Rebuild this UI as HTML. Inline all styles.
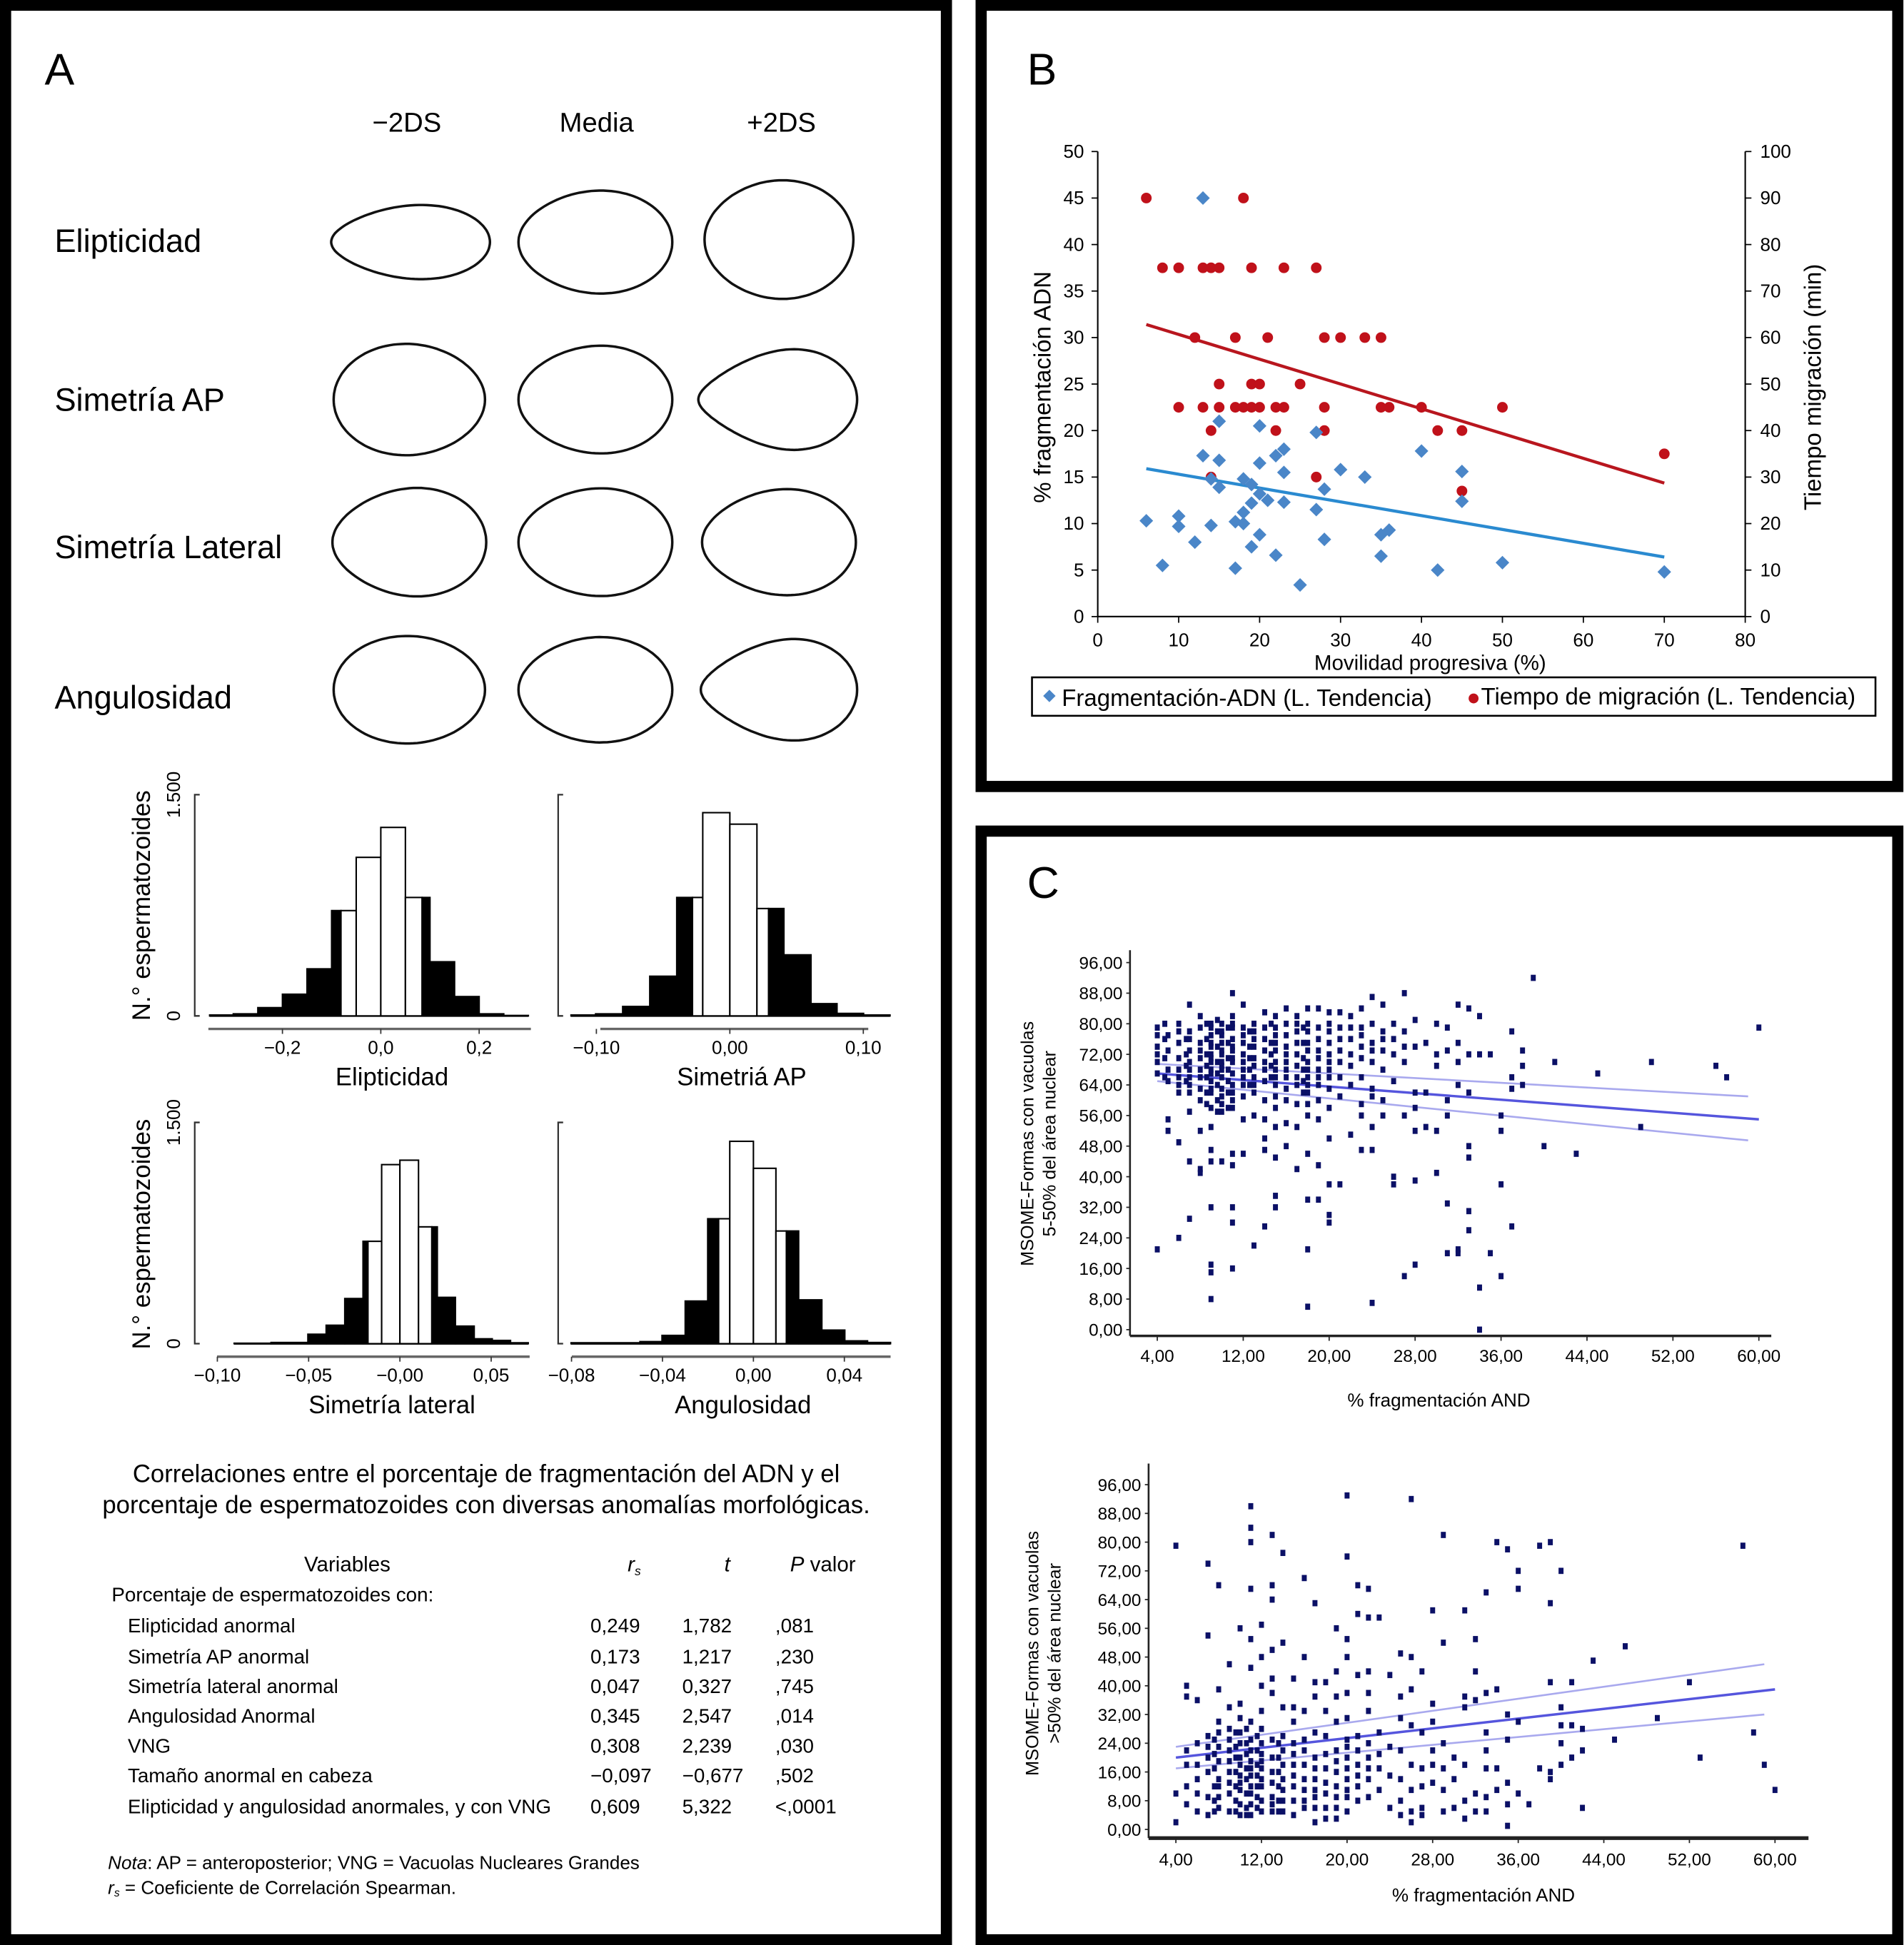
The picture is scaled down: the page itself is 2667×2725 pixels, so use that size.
<!DOCTYPE html>
<html><head><meta charset="utf-8"><style>
html,body{margin:0;padding:0;background:#fff}
svg{display:block}
text{font-family:"Liberation Sans",sans-serif}
</style></head><body>
<svg id="fig" width="2667" height="2725" viewBox="0 0 1535 1568" xmlns="http://www.w3.org/2000/svg">
<rect x="0" y="0" width="1535" height="1568" fill="#fff"/>
<rect x="4.5" y="4" width="758.5" height="1560" fill="none" stroke="#000" stroke-width="9"/>
<rect x="791" y="4" width="739" height="630" fill="none" stroke="#000" stroke-width="9"/>
<rect x="791" y="670" width="739" height="894" fill="none" stroke="#000" stroke-width="9"/>

<text x="36" y="68" font-size="36">A</text>
<text x="828" y="68" font-size="36">B</text>
<text x="828" y="724" font-size="36">C</text>

<g font-size="22" text-anchor="middle">
<text x="328" y="106">−2DS</text>
<text x="481" y="106">Media</text>
<text x="630" y="106">+2DS</text>
</g>
<g font-size="26">
<text x="44" y="203">Elipticidad</text>
<text x="44" y="331">Simetría AP</text>
<text x="44" y="450">Simetría Lateral</text>
<text x="44" y="571">Angulosidad</text>
</g>
<g id="shapes"></g>
<g id="hists"></g>

<g font-size="20" text-anchor="middle">
<text x="392" y="1195">Correlaciones entre el porcentaje de fragmentación del ADN y el</text>
<text x="392" y="1220">porcentaje de espermatozoides con diversas anomalías morfológicas.</text>
</g>
<g font-size="16">
<text x="280" y="1267" text-anchor="middle" font-size="17">Variables</text>
<text x="506" y="1267" font-style="italic" font-size="17">r<tspan font-size="10" dy="3">s</tspan></text>
<text x="584" y="1267" font-style="italic" font-size="17">t</text>
<text x="637" y="1267" font-size="17"><tspan font-style="italic">P</tspan> valor</text>
<text x="90" y="1291">Porcentaje de espermatozoides con:</text>
</g>
<g id="tbl" font-size="16"></g>
<g font-size="15">
<text x="87" y="1507"><tspan font-style="italic">Nota</tspan>: AP = anteroposterior; VNG = Vacuolas Nucleares Grandes</text>
<text x="87" y="1527"><tspan font-style="italic">r<tspan font-size="9" dy="2">s</tspan></tspan><tspan dy="-2"> = Coeficiente de Correlación Spearman.</tspan></text>
</g>

<g id="chartB"></g>
<g id="chartC1"></g>
<g id="chartC2"></g>
</svg>
<script>
const NS="http://www.w3.org/2000/svg";
function mk(parent,tag,attrs,txt){const e=document.createElementNS(NS,tag);for(const k in attrs)e.setAttribute(k,attrs[k]);if(txt!==undefined)e.textContent=txt;parent.appendChild(e);return e;}

/* ---------- Panel B data ---------- */
const bBlueX=[6,8,10,10,12,13,13,14,14,15,15,15,17,17,18,18,18,19,19,19,20,20,20,20,21,22,22,23,23,23,25,27,27,28,28,30,33,35,35,36,40,42,45,45,50,70];
const bBlueY=[10.3,5.5,10.8,9.7,8,45,17.3,9.8,14.8,21,13.9,16.8,5.2,10.2,11.2,10,14.8,7.5,12.2,14.2,8.8,13.2,20.5,16.5,12.5,17.3,6.6,18,15.5,12.3,3.4,11.5,19.8,8.3,13.7,15.8,15,6.5,8.8,9.3,17.8,5,15.6,12.4,5.8,4.8];
const bRedX=[6,8,10,10,12,13,13,14,14,14,15,15,15,17,17,18,18,19,19,19,20,20,21,22,22,23,23,25,27,27,28,28,28,30,33,35,35,36,40,42,45,45,50,70];
const bRedY=[90,75,75,45,60,75,45,75,30,40,75,50,45,60,45,90,45,75,45,50,45,50,60,40,45,75,45,50,75,30,45,40,60,60,60,60,45,45,45,40,40,27,45,35];
const bBlueTrend=[[6,15.9],[70,6.4]];
const bRedTrend=[[6,62.8],[70,28.7]];
const bXTicks=[0,10,20,30,40,50,60,70,80];
const bYLeftTicks=[0,5,10,15,20,25,30,35,40,45,50];
const bYRightTicks=[0,10,20,30,40,50,60,70,80,90,100];

(function(){
 const g=document.getElementById('chartB');
 const X=v=>885+v*6.525, YL=v=>497-v*7.5, YR=v=>497-v*3.75;
 mk(g,'line',{x1:885,y1:122,x2:885,y2:497,stroke:'#000','stroke-width':1.2,});
 mk(g,'line',{x1:1407,y1:122,x2:1407,y2:497,stroke:'#000','stroke-width':1.2,});
 mk(g,'line',{x1:885,y1:497,x2:1407,y2:497,stroke:'#000','stroke-width':1.2,});
 bXTicks.forEach(t=>{mk(g,'line',{x1:X(t),y1:497,x2:X(t),y2:502,stroke:'#000'});
   const e=mk(g,'text',{x:X(t),y:521,'font-size':15,'text-anchor':'middle'},String(t));
   });
 bYLeftTicks.forEach(t=>{mk(g,'line',{x1:880,y1:YL(t),x2:885,y2:YL(t),stroke:'#000'});
   const e=mk(g,'text',{x:874,y:YL(t)+5,'font-size':15,'text-anchor':'end'},String(t));
   });
 bYRightTicks.forEach(t=>{mk(g,'line',{x1:1407,y1:YR(t),x2:1412,y2:YR(t),stroke:'#000'});
   const e=mk(g,'text',{x:1419,y:YR(t)+5,'font-size':15},String(t));
   });
 let t=mk(g,'text',{x:1153,y:540,'font-size':17,'text-anchor':'middle'},'Movilidad progresiva (%)');
 
 t=mk(g,'text',{x:0,y:0,'font-size':19,'text-anchor':'middle',transform:'translate(847,312) rotate(-90)'},'% fragmentación ADN');
 
 t=mk(g,'text',{x:0,y:0,'font-size':19,'text-anchor':'middle',transform:'translate(1468,312) rotate(-90)'},'Tiempo migración (min)');
 
 let l=mk(g,'line',{x1:X(bRedTrend[0][0]),y1:YR(bRedTrend[0][1]),x2:X(bRedTrend[1][0]),y2:YR(bRedTrend[1][1]),stroke:'#b8161e','stroke-width':2.5});
 
 l=mk(g,'line',{x1:X(bBlueTrend[0][0]),y1:YL(bBlueTrend[0][1]),x2:X(bBlueTrend[1][0]),y2:YL(bBlueTrend[1][1]),stroke:'#2a8ad0','stroke-width':2.5});
 
 bRedX.forEach((x,i)=>{const c=mk(g,'circle',{cx:X(x),cy:YR(bRedY[i]),r:4.3,fill:'#c0111a'});
   });
 bBlueX.forEach((x,i)=>{const cx=X(x),cy=YL(bBlueY[i]),s=5.5;
   const p=mk(g,'polygon',{points:`${cx},${cy-s} ${cx+s},${cy} ${cx},${cy+s} ${cx-s},${cy}`,fill:'#4a86c8'});
   });
 const lg=mk(g,'g',{});
 
 mk(lg,'rect',{x:832,y:546,width:680,height:31,fill:'#fff',stroke:'#000','stroke-width':1.5});
 mk(lg,'polygon',{points:'846,556 851,561 846,566 841,561',fill:'#4a86c8'});
 mk(lg,'text',{x:856,y:569,'font-size':19},'Fragmentación-ADN (L. Tendencia)');
 mk(lg,'circle',{cx:1188,cy:563,r:4,fill:'#c0111a'});
 mk(lg,'text',{x:1194,y:568,'font-size':19},'Tiempo de migración (L. Tendencia)');
})();

/* ---------- Panel A shapes ---------- */
(function(){
 const g=document.getElementById('shapes');
 const S=[[331,195,64,32,0.3,-1],[480,195,62,43,0.15,-1],[628,193,60,49,0.1,-1],
          [330,322,61,46,0.1,1],[480,322,62,45,0.15,-1],[627,322,64,45,0.5,-1],
          [330,437,62,46,0.22,-1],[480,437,62,45,0.15,-1],[628,437,62,45,0.22,-1],
          [330,556,61,44,0.06,1],[480,556,62,44,0.15,-1],[628,556,63,45,0.45,-1]];
 S.forEach(s=>{const [cx,cy,rx,ry,k,d]=s;let pts=[];
  for(let i=0;i<=120;i++){const t=i/120*2*Math.PI;const c=Math.cos(t);
   const q=(1+d*c)/2; const f=1-k*q*q;
   pts.push((cx+rx*c).toFixed(1)+','+(cy+ry*Math.sin(t)*f).toFixed(1));}
  const p=mk(g,'polygon',{points:pts.join(' '),fill:'none',stroke:'#111','stroke-width':2});
  });
})();

/* ---------- Panel A histograms ---------- */
const hEllEdges=[-0.348,-0.3,-0.25,-0.2,-0.15,-0.1,-0.081,-0.05,0,0.05,0.084,0.1,0.15,0.2,0.25,0.3];
const hEllCounts=[6,14,56,147,319,714,714,1075,1278,803,803,367,131,14,3];
const hEllWhite=[0,0,0,0,0,0,1,1,1,1,0,0,0,0,0];
const hApEdges=[-0.119,-0.1006,-0.0803,-0.06,-0.0398,-0.028,-0.0203,0,0.0203,0.029,0.0405,0.0608,0.0803,0.1002,0.12];
const hApCounts=[6,14,64,269,803,803,1378,1300,728,728,414,83,17,6];
const hApWhite=[0,0,0,0,0,1,1,1,1,0,0,0,0,0];
const hLatEdges=[-0.0908,-0.0706,-0.0504,-0.0404,-0.0302,-0.0202,-0.0175,-0.01,0,0.0102,0.0175,0.0205,0.0304,0.0407,0.0506,0.0606,0.0703];
const hLatCounts=[3,8,64,125,306,694,694,1214,1244,792,792,314,119,33,22,6];
const hLatWhite=[0,0,0,0,0,0,1,1,1,1,0,0,0,0,0,0];
const hAngEdges=[-0.0802,-0.0499,-0.0402,-0.03,-0.0201,-0.0153,-0.0104,0,0.0099,0.0145,0.0199,0.0301,0.0402,0.0502,0.0603];
const hAngCounts=[6,14,56,289,847,847,1372,1189,764,764,297,92,19,8];
const hAngWhite=[0,0,0,0,0,1,1,1,1,0,0,0,0,0];
const hEllTicks=[-0.2,0,0.2], hEllTickLabels=['−0,2','0,0','0,2'];
const hApTicks=[-0.1,0,0.1], hApTickLabels=['−0,10','0,00','0,10'];
const hLatTicks=[-0.1,-0.05,0,0.05], hLatTickLabels=['−0,10','−0,05','−0,00','0,05'];
const hAngTicks=[-0.08,-0.04,0,0.04], hAngTickLabels=['−0,08','−0,04','0,00','0,04'];

(function(){
 const g=document.getElementById('hists');
 const H=[
  {e:hEllEdges,c:hEllCounts,w:hEllWhite,t:hEllTicks,tl:hEllTickLabels,x0:307,sc:396.5,base:819,yax:157,axL:168,axR:428,title:'Elipticidad',tx:316,name:'elipticidad'},
  {e:hApEdges,c:hApCounts,w:hApWhite,t:hApTicks,tl:hApTickLabels,x0:588.4,sc:1076,base:819,yax:450,axL:484,axR:700,title:'Simetriá AP',tx:598,name:'simetria-ap'},
  {e:hLatEdges,c:hLatCounts,w:hLatWhite,t:hLatTicks,tl:hLatTickLabels,x0:322.4,sc:1471.7,base:1083.3,yax:157,axL:175,axR:427,title:'Simetría lateral',tx:316,name:'simetria-lateral'},
  {e:hAngEdges,c:hAngCounts,w:hAngWhite,t:hAngTicks,tl:hAngTickLabels,x0:607.4,sc:1833,base:1083.3,yax:450,axL:461,axR:718,title:'Angulosidad',tx:599,name:'angulosidad'}];
 H.forEach(h=>{
  const X=v=>h.x0+v*h.sc, Y=v=>h.base-v*178.4/1500;
  const gg=mk(g,'g',{});
  
  mk(gg,'path',{d:`M${h.yax+4},${Y(1500)} H${h.yax} V${h.base} H${h.yax+4}`,fill:'none',stroke:'#333','stroke-width':1.3});
  mk(gg,'line',{x1:X(h.e[0]),y1:h.base,x2:X(h.e[h.e.length-1]),y2:h.base,stroke:'#000','stroke-width':1.5});
  h.c.forEach((c,i)=>{const r=mk(gg,'rect',{x:X(h.e[i]),y:Y(c),width:X(h.e[i+1])-X(h.e[i]),height:h.base-Y(c),fill:h.w[i]?'#fff':'#000',stroke:'#000','stroke-width':1.2});
   });
  const ay=h.base+10.5;
  mk(gg,'line',{x1:h.axL,y1:ay,x2:h.axR,y2:ay,stroke:'#666','stroke-width':2});
  h.t.forEach((t,i)=>{mk(gg,'line',{x1:X(t),y1:ay,x2:X(t),y2:ay+4,stroke:'#333'});
   const e=mk(gg,'text',{x:X(t),y:ay+20,'font-size':15,'text-anchor':'middle'},h.tl[i]);
   });
  const tt=mk(gg,'text',{x:h.tx,y:h.base+56,'font-size':20,'text-anchor':'middle'},h.title);
  
 });
 [[819,730],[1083.3,995]].forEach(r=>{
  let e=mk(g,'text',{x:0,y:0,'font-size':15,'text-anchor':'middle',transform:`translate(145,${r[0]-178.4}) rotate(-90)`},'1.500');
  
  e=mk(g,'text',{x:0,y:0,'font-size':15,'text-anchor':'middle',transform:`translate(145,${r[0]}) rotate(-90)`},'0');
  
  e=mk(g,'text',{x:0,y:0,'font-size':20,'text-anchor':'middle',transform:`translate(121,${r[1]}) rotate(-90)`},'N.° espermatozoides');
  
 });
})();

/* ---------- Table ---------- */
(function(){
 const g=document.getElementById('tbl');
 const rows=[['Elipticidad anormal','0,249','1,782',',081'],['Simetría AP anormal','0,173','1,217',',230'],['Simetría lateral anormal','0,047','0,327',',745'],['Angulosidad Anormal','0,345','2,547',',014'],['VNG','0,308','2,239',',030'],['Tamaño anormal en cabeza','−0,097','−0,677',',502'],['Elipticidad y angulosidad anormales, y con VNG','0,609','5,322','<,0001']];
 const ys=[1316,1341,1365,1389,1413,1437,1462];
 rows.forEach((r,i)=>{const gr=mk(g,'g',{});
  
  mk(gr,'text',{x:103,y:ys[i]},r[0]);mk(gr,'text',{x:476,y:ys[i]},r[1]);mk(gr,'text',{x:550,y:ys[i]},r[2]);mk(gr,'text',{x:625,y:ys[i]},r[3]);});
})();

/* ---------- Panel C data ---------- */
const c1Groups=[[4,[79,77,74,70,21,67,72]],[4.7,[80,76,71,66]],[5,[68,65,55,52,73,77]],[6,[78,75,71,68,64,49,24,80,66,62]],[6.7,[76,72,69,65]],[7,[85,78,73,68,66,62,57,44,29,76,70,64]],[8,[82,75,71,66,60,52,42,41,79,73,68,63]],[8.6,[80,76,72,69,66,62,59]],[9,[80,77,74,72,70,68,65,62,58,53,47,44,32,17,15,8,79,75,71,67,63]],[9.6,[81,78,74,70,67,64,60,57]],[10,[80,78,75,72,69,66,63,59,57,44,77,73,70,68,61]],[10.6,[79,75,71,68,65,62,58]],[11,[88,82,79,76,73,70,67,62,58,46,43,32,28,16,80,74,71,64,60]],[12,[85,79,75,72,68,64,55,46,77,70,66,61]],[12.6,[78,74,71,68,64]],[13,[78,74,71,66,62,56,22,80,76,69,64]],[14,[83,76,70,65,60,55,50,47,27,79,73,68]],[14.6,[80,75,72,69,66]],[15,[82,77,73,68,64,58,53,45,35,32,79,75,70,66,61]],[16,[84,80,74,70,66,60,54,48,77,72,68,63]],[17,[82,78,72,66,59,53,42,80,75,69,64]],[17.6,[79,75,71,68,65,62]],[18,[84,80,75,70,66,62,56,46,34,21,6,78,73,68,64,59]],[19,[84,79,73,68,64,60,55,43,34,76,71,66]],[20,[83,78,72,68,63,58,50,38,30,28,80,75,70,66]],[21,[83,76,70,66,61,38,79,73]],[22,[82,76,72,64,51,79,69]],[23,[84,79,74,66,59,56,47,71,77]],[24,[87,80,75,70,63,61,53,47,7,73]],[25,[85,78,73,68,60,56,76]],[26,[80,72,65,40,38,76]],[27,[88,78,70,56,14,74]],[28,[81,74,62,58,52,39,17]],[29,[75,62,53]],[30,[80,72,69,52,41]],[31,[79,73,60,56,33,20]],[32,[85,75,70,64,21,20]],[33,[84,72,62,48,45,31,26]],[34,[82,72,11,0]],[35,[72,20]],[36,[56,52,38,14]],[37,[78,66,63,27]],[38,[73,69,64]],[39,[92]],[40,[48]],[41,[70]],[43,[46]],[45,[67]],[49,[53]],[50,[70]],[56,[69]],[57,[66]],[60,[79]]];
const c1Fit=[[4,67],[60,55]], c1Upper=[[4,69.5],[59,61]], c1Lower=[[4,65],[59,49.5]];
const c2Groups=[[4,[79,10,2]],[5,[40,37,22,18,12,7]],[6,[36,24,18,10,5,14]],[7,[74,54,26,20,16,9,4,23]],[7.6,[25,21,17,12,8,5]],[8,[68,39,27,23,19,14,12,6,30,9]],[9,[46,34,28,22,16,10,5,25,19,13]],[9.6,[27,23,20,16,12,8,5]],[10,[56,35,31,27,20,15,11,4,24,18,13,7]],[10.6,[28,24,21,17,14,10,6,4]],[11,[90,84,80,67,53,45,30,25,19,15,10,4,22,17,12,7]],[11.6,[26,22,18,15,12,9,6]],[12,[57,48,40,33,28,21,17,12,8,5,24,19,14]],[13,[82,68,64,50,42,38,25,16,9,5,20,13,7]],[13.6,[24,20,16,12,8,5]],[14,[77,52,34,26,22,14,8,18,11,5]],[15,[42,34,30,24,18,12,4,21,15,8]],[16,[70,48,33,25,18,11,6,22,14,8]],[17,[63,41,37,27,20,14,9,2,17,11,6]],[18,[41,33,26,17,10,6,3,21,13]],[19,[56,44,37,30,22,16,12,6,3,19,9]],[20,[93,76,53,48,38,31,25,20,14,9,5,23,17,11]],[21,[68,60,43,26,18,12,8,22,15]],[22,[67,59,44,38,33,20,14,9,24,17]],[23,[59,27,21,17,11]],[24,[43,23,15,6]],[25,[49,37,31,22,14,8,4]],[26,[92,48,39,29,18,11,5,2]],[27,[44,27,17,12,6,4]],[28,[61,35,30,22,18,13]],[29,[82,52,24,17,11,5]],[30,[20,14,6]],[31,[61,37,34,18,8,3]],[32,[53,44,36,10,5]],[33,[66,38,27,22,17,9,5]],[34,[80,39,17,11]],[35,[78,32,25,13,7,1]],[36,[72,67,30,10]],[37,[7]],[38,[79,17]],[39,[80,63,41,16,14]],[40,[72,34,29,24,18]],[41,[41,29,20]],[42,[28,22,6]],[43,[47]],[45,[25]],[46,[51]],[49,[31]],[52,[41]],[53,[20]],[57,[79]],[58,[27]],[59,[18]],[60,[11]]];
const c2Fit=[[4,20],[60,39]], c2Upper=[[4,23],[59,46]], c2Lower=[[4,17],[59,32]];
const cXTicks=[4,12,20,28,36,44,52,60];
const cXTickLabels=['4,00','12,00','20,00','28,00','36,00','44,00','52,00','60,00'];
const cYTicks=[0,8,16,24,32,40,48,56,64,72,80,88,96];
const cYTickLabels=['0,00','8,00','16,00','24,00','32,00','40,00','48,00','56,00','64,00','72,00','80,00','88,00','96,00'];

function scatterC(id,o){
 const g=document.getElementById(id);
 const X=v=>o.x4+(v-4)*(o.x60-o.x4)/56, Y=v=>o.y0-v*(o.y0-o.y96)/96;
 mk(g,'line',{x1:o.ax,y1:o.top,x2:o.ax,y2:o.xaxY,stroke:'#222','stroke-width':1.5});
 mk(g,'line',{x1:o.ax,y1:o.xaxY,x2:o.right,y2:o.xaxY,stroke:'#222','stroke-width':o.xw});
 cYTicks.forEach((t,i)=>{mk(g,'line',{x1:o.ax-3,y1:Y(t),x2:o.ax,y2:Y(t),stroke:'#222'});
  const e=mk(g,'text',{x:o.ax-6,y:Y(t)+5,'font-size':14,'text-anchor':'end'},cYTickLabels[i]);
  });
 cXTicks.forEach((t,i)=>{mk(g,'line',{x1:X(t),y1:o.xaxY,x2:X(t),y2:o.xaxY+4,stroke:'#222'});
  const e=mk(g,'text',{x:X(t),y:o.xaxY+o.lblDy,'font-size':14,'text-anchor':'middle'},cXTickLabels[i]);
  });
 [[o.up,'#a9a9ee',1.5],[o.lo,'#a9a9ee',1.5],[o.fit,'#5555dd',2]].forEach((L,k)=>{
  const l=mk(g,'line',{x1:X(L[0][0][0]),y1:Y(L[0][0][1]),x2:X(L[0][1][0]),y2:Y(L[0][1][1]),stroke:L[1],'stroke-width':L[2]});
  });
 o.groups.forEach(gr=>gr[1].forEach(v=>{const r=mk(g,'rect',{x:X(gr[0])-2,y:Y(v)-2.5,width:4,height:5,fill:'#0b1066'});
  }));
 let t=mk(g,'text',{x:o.titleX,y:o.titleY,'font-size':15,'text-anchor':'middle'},'% fragmentación AND');
 
 t=mk(g,'text',{x:0,y:0,'font-size':14.5,'text-anchor':'middle',transform:`translate(${o.yt1},${o.ytc}) rotate(-90)`},'MSOME-Formas con vacuolas');
 
 t=mk(g,'text',{x:0,y:0,'font-size':14.5,'text-anchor':'middle',transform:`translate(${o.yt1+18},${o.ytc}) rotate(-90)`},o.ylab2);
 
}
scatterC('chartC1',{x4:933,x60:1418,y0:1072,y96:776,ax:911,top:766,xaxY:1077,right:1428,xw:2,lblDy:21,groups:c1Groups,fit:c1Fit,up:c1Upper,lo:c1Lower,titleX:1160,titleY:1134,yt1:833,ytc:922,ylab2:'5-50% del área nuclear'});
scatterC('chartC2',{x4:948,x60:1431,y0:1475,y96:1197,ax:926,top:1180,xaxY:1482,right:1458,xw:3,lblDy:22,groups:c2Groups,fit:c2Fit,up:c2Upper,lo:c2Lower,titleX:1196,titleY:1533,yt1:837,ytc:1333,ylab2:'>50% del área nuclear'});
</script>
</body></html>
